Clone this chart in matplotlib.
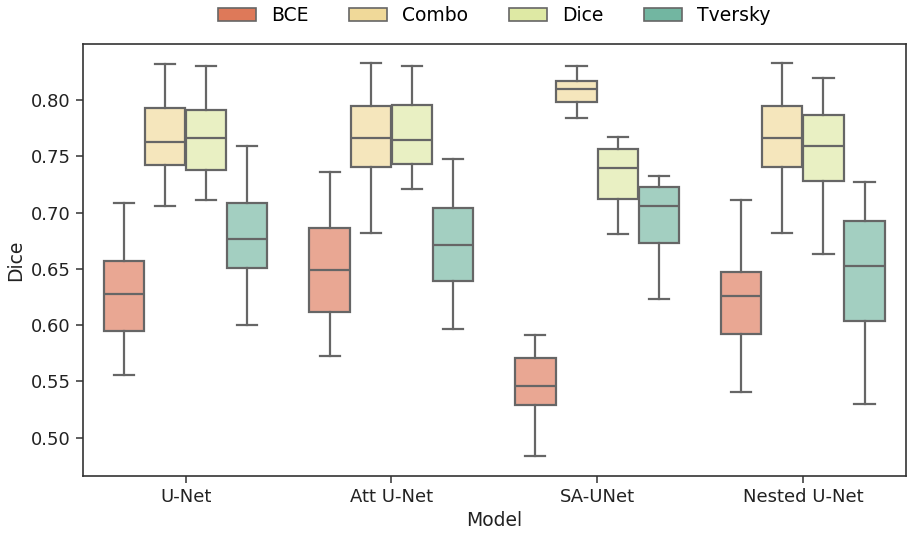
# Dice 係数の箱ひげ図（モデル × 損失関数）

import matplotlib
matplotlib.use("Agg")
import matplotlib.pyplot as plt
from matplotlib.patches import Patch
import seaborn as sns
import colorsys

# -------------------------------
# データ
# -------------------------------
models = ["U-Net", "Att U-Net", "SA-UNet", "Nested U-Net"]
losses = ["BCE", "Combo", "Dice", "Tversky"]

# 各損失ごとに、モデル順で [下ひげ, 第1四分位, 中央値, 第3四分位, 上ひげ]
bce = [
    [0.556, 0.595, 0.628, 0.657, 0.709],
    [0.573, 0.612, 0.649, 0.686, 0.736],
    [0.484, 0.529, 0.546, 0.571, 0.591],
    [0.541, 0.592, 0.626, 0.647, 0.711],
]
combo = [
    [0.706, 0.742, 0.763, 0.793, 0.832],
    [0.682, 0.741, 0.766, 0.795, 0.833],
    [0.784, 0.798, 0.810, 0.817, 0.830],
    [0.682, 0.741, 0.766, 0.795, 0.833],
]
dice = [
    [0.711, 0.738, 0.766, 0.791, 0.830],
    [0.721, 0.743, 0.765, 0.796, 0.830],
    [0.681, 0.712, 0.740, 0.757, 0.767],
    [0.663, 0.728, 0.759, 0.787, 0.820],
]
tversky = [
    [0.600, 0.651, 0.677, 0.709, 0.759],
    [0.597, 0.639, 0.671, 0.704, 0.748],
    [0.623, 0.673, 0.706, 0.723, 0.733],
    [0.530, 0.604, 0.653, 0.693, 0.727],
]
series = [bce, combo, dice, tversky]

# -------------------------------
# 色（Spectral パレットを少し彩度を落として使う）
# -------------------------------
def desaturate(c, prop=0.75):
    h, l, s = colorsys.rgb_to_hls(*c)
    return colorsys.hls_to_rgb(h, l, s * prop)

colors = [desaturate(c) for c in sns.color_palette("Spectral", 4)]
line_color = "#666666"

plt.rcParams["font.family"] = ["DejaVu Sans"]

fig = plt.figure(figsize=(9.07, 5.35), dpi=100)
ax = fig.add_axes([0.0912, 0.1103, 0.9074, 0.8075])

width = 0.8 / len(losses)
for j, (name, data) in enumerate(zip(losses, series)):
    stats = []
    for vals in data:
        lo, q1, med, q3, hi = vals
        stats.append({"whislo": lo, "q1": q1, "med": med, "q3": q3, "whishi": hi, "fliers": []})
    pos = [i - 0.4 + width * (j + 0.5) for i in range(len(models))]
    ax.bxp(
        stats, positions=pos, widths=width * 0.98, patch_artist=True, showfliers=False,
        boxprops=dict(facecolor=(*colors[j], 0.65), edgecolor=line_color, linewidth=1.6),
        whiskerprops=dict(color=line_color, linewidth=1.6),
        capprops=dict(color=line_color, linewidth=1.6),
        medianprops=dict(color=line_color, linewidth=1.6),
        manage_ticks=False,
    )

ax.set_xlim(-0.5, len(models) - 0.5)
ax.set_ylim(0.466, 0.85)
ax.set_xticks(range(len(models)))
ax.set_xticklabels(models)
ax.set_yticks([0.50, 0.55, 0.60, 0.65, 0.70, 0.75, 0.80])
ax.set_yticklabels([f"{v:.2f}" for v in ax.get_yticks()])
ax.tick_params(labelsize=13, color="#333333", labelcolor="#222222", length=5, width=1.1)
for sp in ax.spines.values():
    sp.set_color("#333333")
    sp.set_linewidth(1.2)
ax.set_xlabel("Model", fontsize=13.5, color="#222222")
ax.set_ylabel("Dice", fontsize=13.5, color="#222222")

# 凡例（軸の上に横並び）
handles = [Patch(facecolor=c, edgecolor=line_color, linewidth=1.2) for c in colors]
ax.legend(handles, losses, loc="center", bbox_to_anchor=(0.5, 1.065), ncol=4,
          frameon=False, fontsize=13.5, columnspacing=2.2, handletextpad=0.8)

fig.savefig("out.png", dpi=100)
